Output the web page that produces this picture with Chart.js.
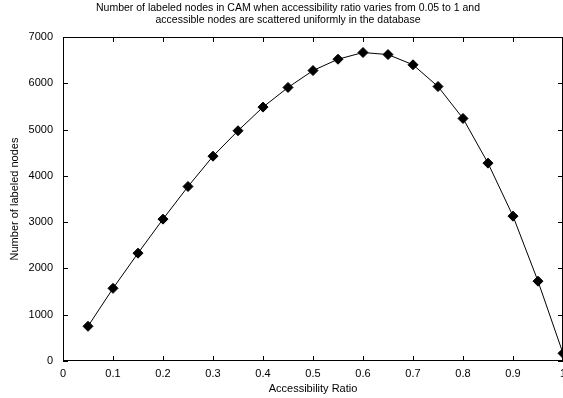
<!DOCTYPE html>
<html lang="en">
  <head>
    <meta charset="UTF-8">
    <title>Number of labeled nodes in CAM</title>
    <script src="https://cdn.jsdelivr.net/npm/chart.js@4"></script>
    <style>
      html, body { margin: 0; padding: 0; background: #fff; overflow: hidden; }
      #wrap { width: 563px; height: 398px; }
      canvas { display: block; }
    </style>
  </head>
  <body>
    <div id="wrap"><canvas id="chart"></canvas></div>
    <script type="text/javascript">
      const ratios = [0.05, 0.1, 0.15, 0.2, 0.25, 0.3, 0.35, 0.4, 0.45, 0.5,
                      0.55, 0.6, 0.65, 0.7, 0.75, 0.8, 0.85, 0.9, 0.95, 1]
      const labeledNodes = [750, 1570, 2330, 3065, 3770, 4425, 4975, 5485, 5910, 6275,
                            6520, 6665, 6620, 6400, 5930, 5240, 4275, 3130, 1725, 165]
      const xTickLabels = ['0', '0.1', '0.2', '0.3', '0.4', '0.5', '0.6', '0.7', '0.8', '0.9', '1']
      const yTickLabels = ['0', '1000', '2000', '3000', '4000', '5000', '6000', '7000']
      const titleLines = ['Number of labeled nodes in CAM when accessibility ratio varies from 0.05 to 1 and',
                          'accessible nodes are scattered uniformly in the database']

      const font = { family: '"Liberation Sans", Arial, Helvetica, sans-serif', size: 11 }

      // gnuplot-like frame with inward ticks on all four sides
      const framePlugin = {
        id: 'frame',
        afterDraw(chart) {
          const { ctx, chartArea: a } = chart
          const xs = chart.scales.x, ys = chart.scales.y
          ctx.save()
          ctx.strokeStyle = '#000'
          ctx.lineWidth = 1
          ctx.strokeRect(a.left + 0.5, a.top + 0.5, a.right - a.left - 1, a.bottom - a.top - 1)
          ctx.beginPath()
          const len = 5
          xs.ticks.forEach(t => {
            const px = Math.round(xs.getPixelForValue(t.value)) + 0.5
            ctx.moveTo(px, a.bottom); ctx.lineTo(px, a.bottom - len)
            ctx.moveTo(px, a.top); ctx.lineTo(px, a.top + len)
          })
          ys.ticks.forEach(t => {
            const py = Math.round(ys.getPixelForValue(t.value)) + 0.5
            ctx.moveTo(a.left, py); ctx.lineTo(a.left + len, py)
            ctx.moveTo(a.right, py); ctx.lineTo(a.right - len, py)
          })
          ctx.stroke()
          ctx.restore()
        }
      }

      const ctx = document.getElementById('chart').getContext('2d')
      const chart = new Chart(ctx, {
        type: 'line',
        data: {
          datasets: [{
            label: 'Labeled nodes',
            data: ratios.map((r, i) => ({ x: r, y: labeledNodes[i] })),
            borderColor: '#000',
            borderWidth: 1,
            backgroundColor: '#000',
            pointStyle: 'rectRot',
            pointRadius: 5,
            pointBorderWidth: 1,
            pointBorderColor: '#000',
            pointBackgroundColor: '#000',
            lineTension: 0,
            clip: false
          }]
        },
        options: {
          responsive: true,
          maintainAspectRatio: false,
          animation: false,
          layout: { autoPadding: false, padding: { left: 13, right: 0, top: 0, bottom: 0 } },
          plugins: {
            legend: { display: false },
            tooltip: { enabled: false },
            title: {
              display: true,
              text: titleLines,
              color: '#000',
              font: { family: font.family, size: 10.5, weight: 'normal', lineHeight: '12px' },
              padding: { top: 2, bottom: 11 }
            }
          },
          scales: {
            x: {
              type: 'linear',
              min: 0,
              max: 1,
              afterFit(s) { s.paddingLeft = 0; s.paddingRight = 0; s.height = 37 },
              grid: { display: false, drawTicks: false },
              border: { display: false },
              ticks: {
                stepSize: 0.1,
                padding: 6,
                color: '#000',
                font: font,
                maxRotation: 0,
                autoSkip: false,
                callback: (v, i) => xTickLabels[i]
              },
              title: {
                display: true,
                text: 'Accessibility Ratio',
                color: '#000',
                font: font,
                padding: { top: 0, bottom: 2 }
              }
            },
            y: {
              min: 0,
              max: 7000,
              afterFit(s) { s.width = 50; s.paddingTop = 0; s.paddingBottom = 0 },
              grid: { display: false, drawTicks: false },
              border: { display: false },
              ticks: {
                stepSize: 1000,
                padding: 10,
                color: '#000',
                font: font,
                callback: (v, i) => yTickLabels[i]
              },
              title: {
                display: true,
                text: 'Number of labeled nodes',
                color: '#000',
                font: font,
                padding: { top: -5, bottom: 0 }
              }
            }
          }
        },
        plugins: [framePlugin]
      })
    </script>
  </body>
</html>
